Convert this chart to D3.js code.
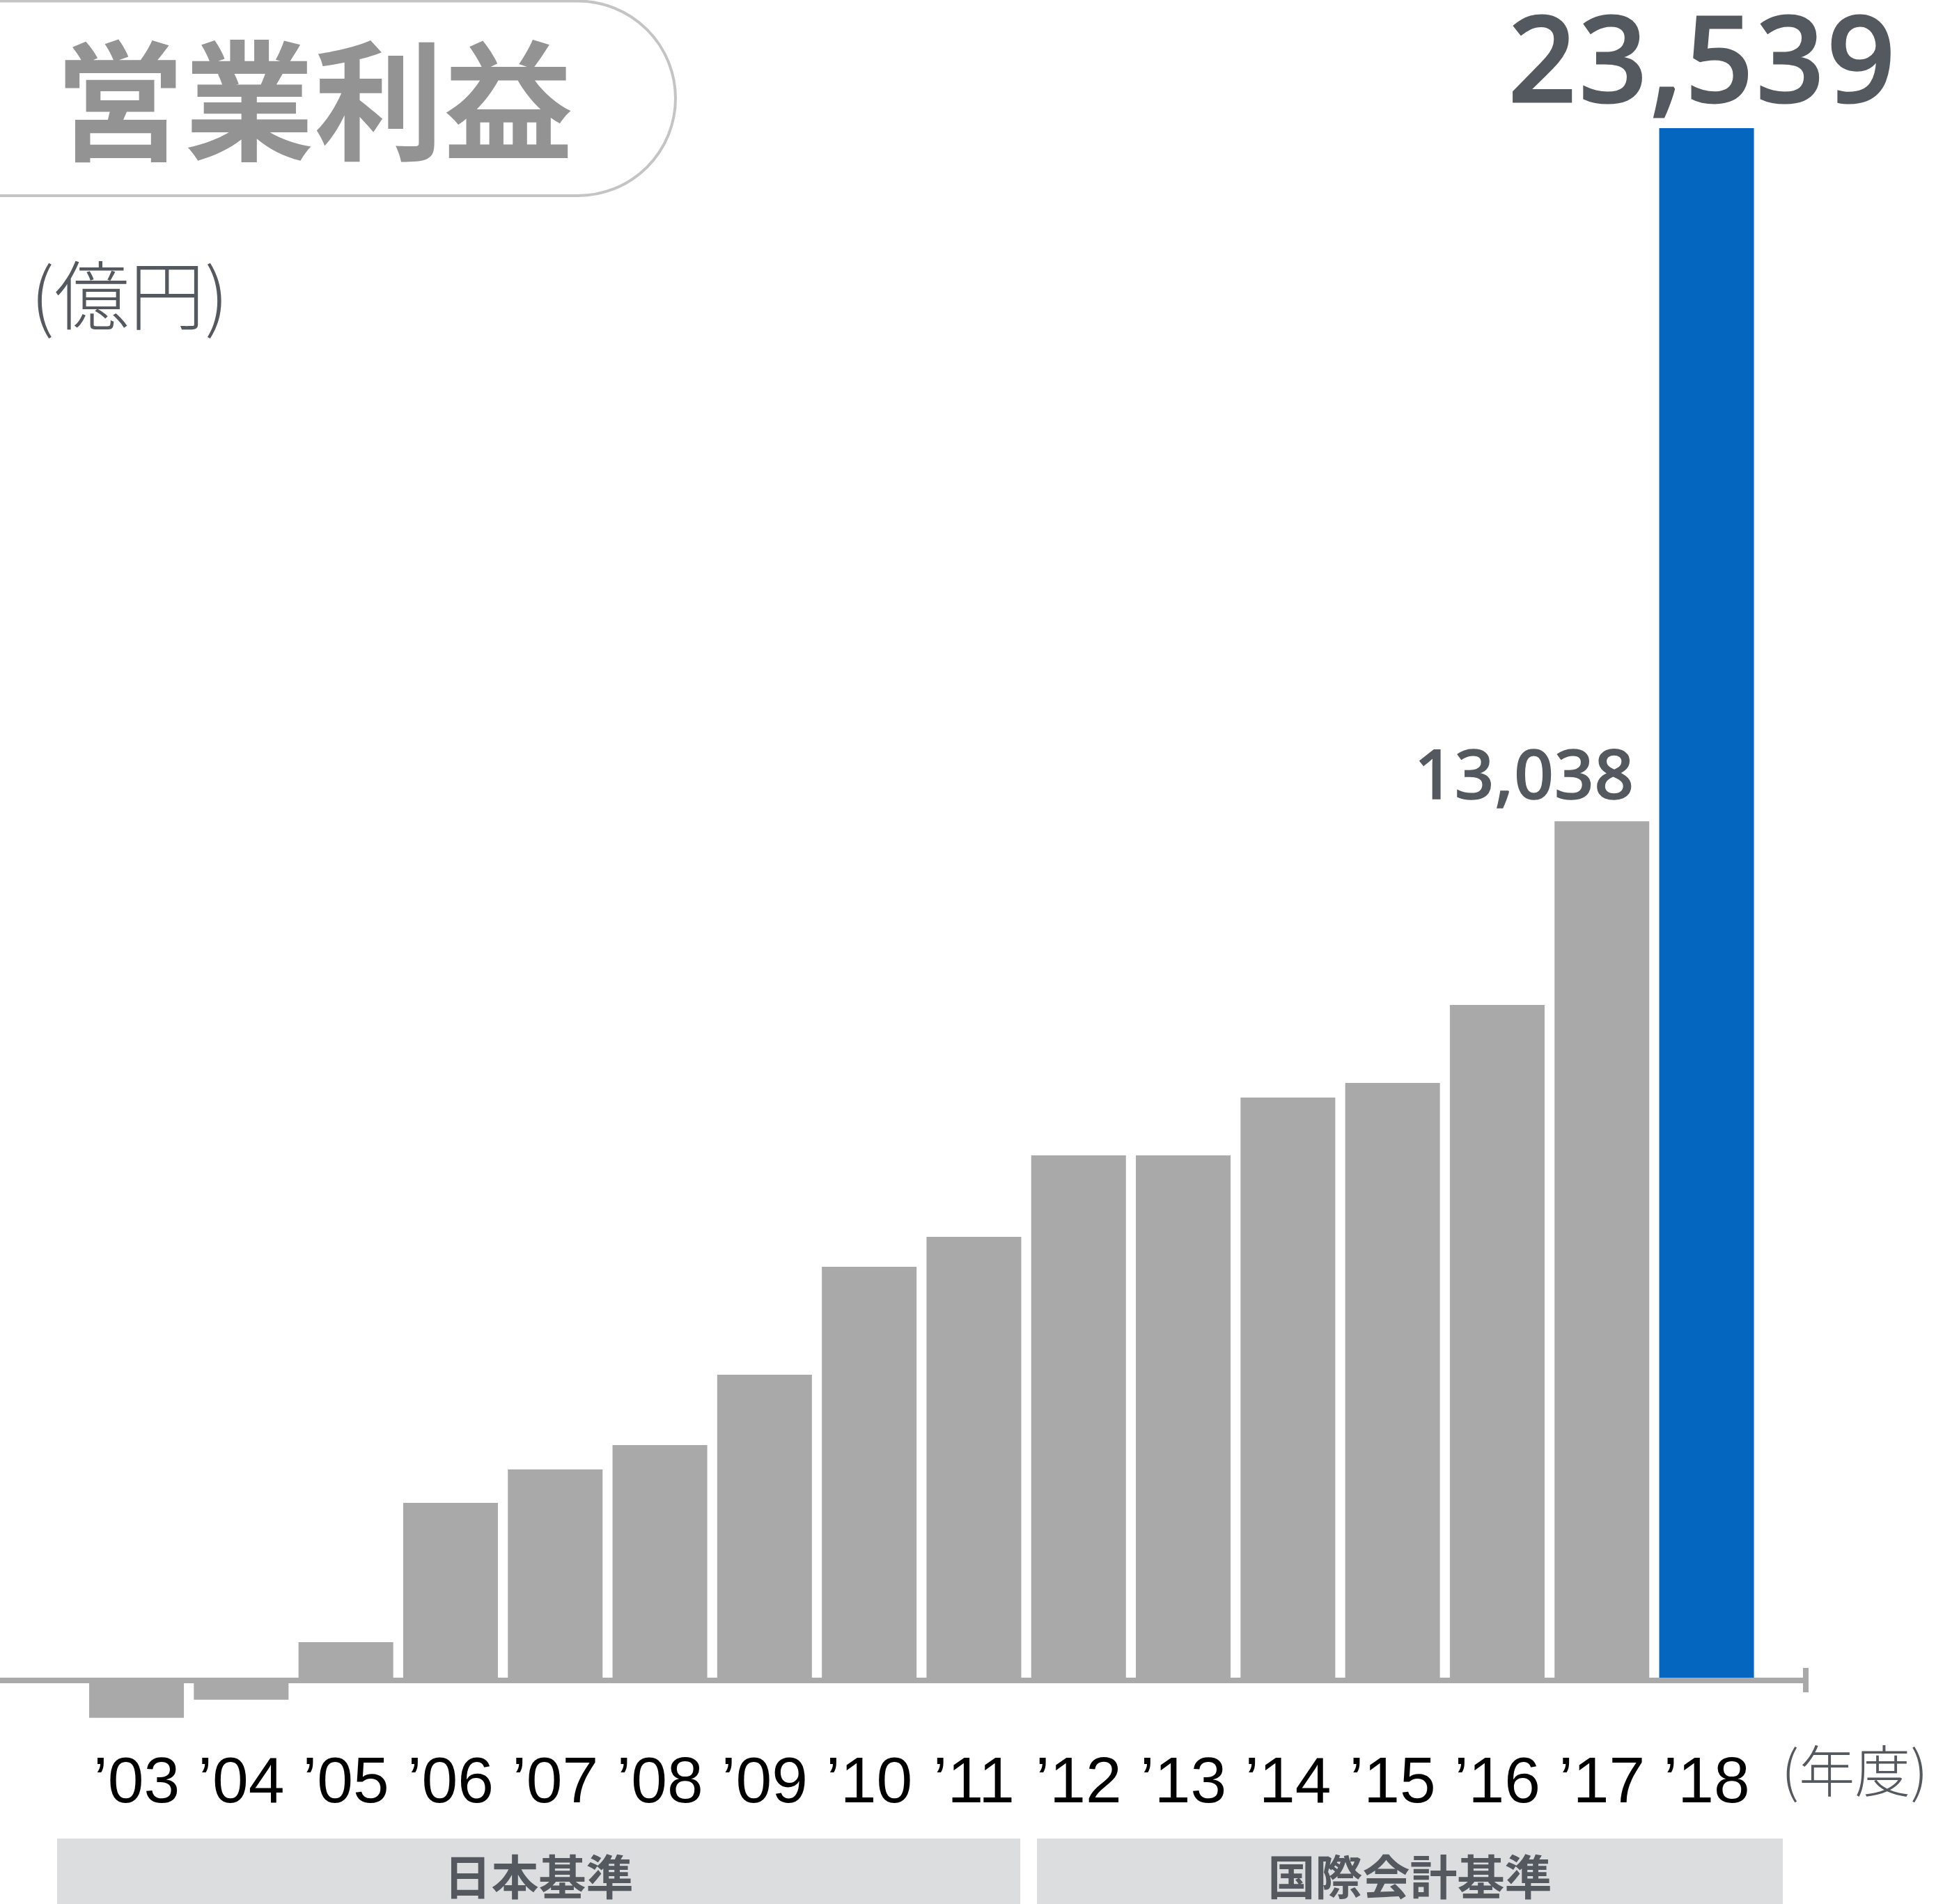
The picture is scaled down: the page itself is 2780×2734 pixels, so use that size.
<!DOCTYPE html>
<html><head><meta charset="utf-8">
<script src="https://cdn.jsdelivr.net/npm/d3@7"></script>
<style>body{margin:0;background:#fff}svg{display:block}</style>
</head><body>
<script>
// ---- data (億円) ----
const years = ["’03","’04","’05","’06","’07","’08","’09","’10","’11","’12","’13","’14","’15","’16","’17","’18"];
const operatingIncome = [-545,-271,601,2712,3218,3587,4653,6288,6742,7976,7976,8852,9074,10255,13038,23539];
const highlightYear = "’18";
const labelledYears = ["’17","’18"];
const labelTexts = ["13,038","23,539"];
const standardNames = ["日本基準","国際会計基準"];
const titleText = "営業利益";
const unitText = "(億円)";
const yearUnitText = "(年度)";

// ---- layout ----
const W = 2780, H = 2734;
const svg = d3.select("body").append("svg").attr("width", W).attr("height", H);

const x = d3.scaleBand().domain(years).range([120.9, 2525.7]).paddingInner(0.095).paddingOuter(0.0475);
const y = d3.scaleLinear().domain([0, 23539]).range([2415, 184]);

const GREY = "#a8a9a8", BLUE = "#0566c0", TEXT = "#54595f";

// title pill
svg.append("rect").attr("x", -400).attr("y", 1.5).attr("width", 400 + 970).attr("height", 279.5)
  .attr("rx", 140).attr("ry", 140).attr("fill", "#fff").attr("stroke", "#c4c4c4").attr("stroke-width", 4);
svg.append("text").attr("x", 451).attr("y", 135).attr("text-anchor", "middle").attr("dominant-baseline", "central")
  .attr("font-family", "'Noto Sans CJK JP'").attr("font-weight", 700).attr("font-size", 186)
  .attr("fill", "#939393").text(titleText);

// unit
svg.append("text").attr("x", 44).attr("y", 418).attr("dominant-baseline", "central")
  .attr("font-family", "'Noto Sans CJK JP'").attr("font-weight", 300).attr("font-size", 108)
  .attr("fill", TEXT).text(unitText);

// bars
const data = years.map((yr, i) => ({year: yr, value: operatingIncome[i]}));
svg.append("g").selectAll("rect").data(data).join("rect")
  .attr("x", d => x(d.year))
  .attr("width", x.bandwidth())
  .attr("y", d => y(Math.max(0, d.value)))
  .attr("height", d => Math.abs(y(d.value) - y(0)))
  .attr("fill", d => d.year === highlightYear ? BLUE : GREY);

// baseline axis line + end tick
svg.append("line").attr("x1", 0).attr("x2", 2597).attr("y1", 2413).attr("y2", 2413)
  .attr("stroke", GREY).attr("stroke-width", 8);
svg.append("line").attr("x1", 2593).attr("x2", 2593).attr("y1", 2395).attr("y2", 2430)
  .attr("stroke", GREY).attr("stroke-width", 8);

// x axis labels
const axis = svg.append("g").attr("transform", `translate(0,${y(0)})`)
  .call(d3.axisBottom(x).tickSize(0).tickPadding(0));
axis.select(".domain").remove();
axis.selectAll("text").attr("y", 2588 - y(0)).attr("dy", 0)
  .attr("font-family", "'Liberation Sans', Arial, sans-serif").attr("font-size", 93)
  .attr("fill", "#000");

// year unit
svg.append("text").attr("x", 2558).attr("y", 2538).attr("dominant-baseline", "central")
  .attr("font-family", "'Noto Sans CJK JP'").attr("font-weight", 300).attr("font-size", 80)
  .attr("fill", TEXT).text(yearUnitText);

// value labels
labelledYears.forEach((yr, i) => {
  const v = operatingIncome[years.indexOf(yr)];
  const big = yr === highlightYear;
  svg.append("text")
    .attr("x", big ? x(yr) + x.bandwidth() / 2 - 5 : x(yr) + x.bandwidth() - 21)
    .attr("y", big ? y(v) - 38 : y(v) - 32)
    .attr("text-anchor", big ? "middle" : "end")
    .attr("font-family", "'Noto Sans', sans-serif").attr("font-weight", 500)
    .attr("font-size", big ? 171 : 99)
    .attr("letter-spacing", big ? 4 : 1)
    .attr("stroke", TEXT).attr("stroke-width", big ? 3 : 1.5)
    .attr("fill", TEXT).text(labelTexts[i]);
});

// accounting standard bands
const bands = [
  {name: standardNames[0], x0: 82, x1: 1465},
  {name: standardNames[1], x0: 1489, x1: 2560}
];
const bg = svg.append("g");
bands.forEach(b => {
  bg.append("rect").attr("x", b.x0).attr("y", 2640).attr("width", b.x1 - b.x0).attr("height", H - 2640).attr("fill", "#dcdddf");
  bg.append("text").attr("x", (b.x0 + b.x1) / 2).attr("y", 2691).attr("text-anchor", "middle").attr("dominant-baseline", "central")
    .attr("font-family", "'Noto Sans CJK JP'").attr("font-weight", 700).attr("font-size", 68)
    .attr("fill", TEXT).text(b.name);
});
</script>
</body></html>
